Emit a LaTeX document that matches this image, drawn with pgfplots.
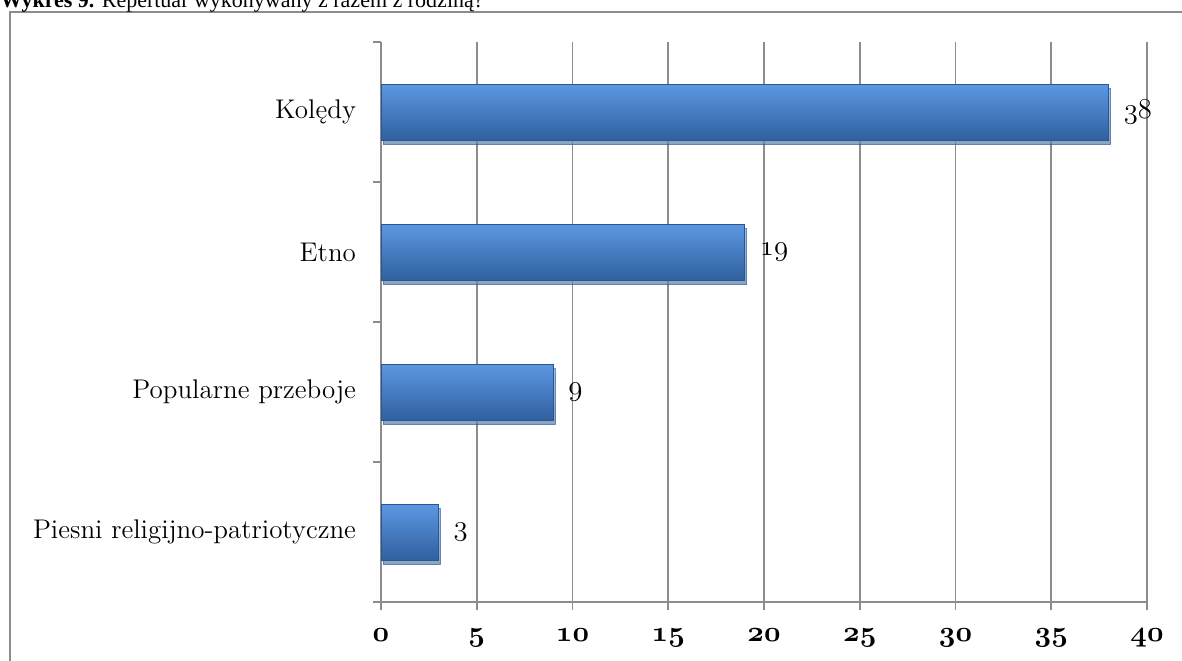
\documentclass[border=0pt]{standalone}
\usepackage{fontspec}
\usepackage{pgfplots}
\pgfplotsset{compat=1.18}
\usetikzlibrary{shadows}
\newfontfamily\titlefont{Liberation Serif}
\newcommand\osnfont{\fontencoding{OML}\fontfamily{cmm}\fontseries{m}\fontshape{it}\fontsize{15.5}{18}\selectfont}
\newcommand\osbfont{\fontencoding{OML}\fontfamily{cmm}\fontseries{b}\fontshape{it}\fontsize{14}{16}\selectfont}
\definecolor{gridgray}{HTML}{8C8C8C}
\definecolor{barTop}{HTML}{5C98E2}
\definecolor{barMid}{HTML}{4282D0}
\definecolor{barBot}{HTML}{30609F}
\definecolor{barEdge}{HTML}{2A5790}
\pgfplotsset{barstyle/.style={draw=barEdge, line width=0.4pt, top color=barTop, middle color=barMid, bottom color=barBot, bar shift=0pt, drop shadow={shadow xshift=1pt, shadow yshift=-2pt, fill=black!18}}}
\begin{document}
\begin{tikzpicture}
\useasboundingbox (0,0) rectangle (591pt,-330pt);
\draw[gridgray, line width=0.8pt] (5pt,-345pt) -- (5pt,-6pt) -- (600pt,-6pt);
\node[anchor=base west, inner sep=0pt, font=\titlefont\fontsize{11}{13}\selectfont] at (0pt,-3.5pt) {\textbf{Wykres 9.} Repertuar wykonywany z razem z rodziną?};
\begin{axis}[
  at={(190.5pt,-301pt)}, anchor=south west,
  width=383pt, height=280pt, scale only axis,
  xmin=0, xmax=40, ymin=0, ymax=4,
  xbar, bar width=0.4,
  axis x line*=bottom, axis y line*=left,
  axis line style={gridgray, line width=0.8pt},
  xmajorgrids, grid style={gridgray, line width=0.8pt},
  xtick={0,5,...,40},
  xticklabels={0,5,10,15,20,25,30,35,40},
  xtick align=outside,
  major tick length=4pt, minor tick length=4pt,
  tick style={gridgray, line width=0.8pt},
  xticklabel style={font=\osbfont, yshift=-6pt},
  ytick={0.5,1.5,2.5,3.5},
  yticklabels={Piesni religijno-patriotyczne, Popularne przeboje, Etno, Kolędy},
  minor ytick={0,1,2,3,4},
  ytick align=outside,
  major y tick style={draw=none},
  yticklabel style={font=\fontsize{13.5}{16}\selectfont, xshift=-5pt},
  /pgf/number format/assume math mode=true,
  nodes near coords,
  nodes near coords style={font=\osnfont, anchor=west, xshift=4pt, black},
]
\addplot[barstyle] coordinates {(38,3.5)};
\addplot[barstyle] coordinates {(19,2.5)};
\addplot[barstyle] coordinates {(9,1.5)};
\addplot[barstyle] coordinates {(3,0.5)};
\end{axis}
\end{tikzpicture}
\end{document}
